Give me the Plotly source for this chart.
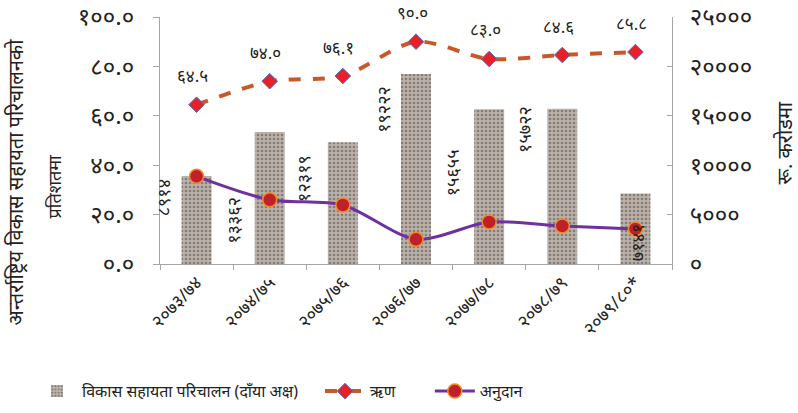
import plotly.graph_objects as go

# Fiscal years (Nepali calendar)
years = ["२०७३/७४", "२०७४/७५", "२०७५/७६", "२०७६/७७", "२०७७/७८", "२०७८/७९", "२०७९/८०*"]

# Development assistance mobilised, Rs. crore (right axis)
aid_total = [8914, 13362, 12319, 19222, 15655, 15722, 7141]
aid_labels = ["८९१४", "१३३६२", "१२३१९", "१९२२२", "१५६५५", "१५७२२", "७१४१"]

# Share of loan and grant, percent (left axis)
loan_pct = [64.5, 74.0, 76.1, 90.0, 83.0, 84.6, 85.8]
loan_labels = ["६४.५", "७४.०", "७६.१", "९०.०", "८३.०", "८४.६", "८५.८"]
grant_pct = [35.5, 26.0, 23.9, 10.0, 17.0, 15.4, 14.2]

left_ticks = [0, 20, 40, 60, 80, 100]
left_ticktext = ["०.०", "२०.०", "४०.०", "६०.०", "८०.०", "१००.०"]
right_ticks = [0, 5000, 10000, 15000, 20000, 25000]
right_ticktext = ["०", "५०००", "१००००", "१५०००", "२००००", "२५०००"]

FONT = "Noto Sans, Noto Sans Devanagari, sans-serif"
AXIS_GREY = "#a6a6a6"
TXT = "#222222"

fig = go.Figure()

fig.add_trace(go.Bar(
    x=years, y=aid_total, name="विकास सहायता परिचालन (दाँया अक्ष)",
    yaxis="y", width=0.41, legend="legend",
    marker=dict(
        color="#b4aba3",
        line=dict(width=0),
        pattern=dict(shape=".", bgcolor="#bbb3ab", fgcolor="#867c74",
                     size=4, solidity=0.35, fillmode="replace"),
    ),
))

fig.add_trace(go.Scatter(
    x=years, y=loan_pct, name="ऋण", yaxis="y2", mode="lines+markers",
    legend="legend2",
    line=dict(color="#c8582a", width=4, dash="dash", shape="spline", smoothing=0.8),
    marker=dict(symbol="diamond", size=12, color="#e8202a",
                line=dict(color="#4472c4", width=1)),
))

fig.add_trace(go.Scatter(
    x=years, y=grant_pct, name="अनुदान", yaxis="y2", mode="lines+markers",
    legend="legend3",
    line=dict(color="#7030a0", width=3, shape="spline", smoothing=0.8),
    marker=dict(symbol="circle", size=14, color="#c0202a",
                line=dict(color="#f08c28", width=1.5)),
))

annotations = []
# Loan value labels above the markers
for yr, v, t in zip(years, loan_pct, loan_labels):
    annotations.append(dict(x=yr, y=v, xref="x", yref="y2", text=t,
                            showarrow=False, yshift=29, xshift=-4,
                            font=dict(family=FONT, size=17, color=TXT)))

# Vertical value labels next to the bars
bar_label_pos = [(6700, -34), (4450, -37), (8700, -40), (15600, -33),
                 (9200, -37), (13600, -39), (2150, 1)]
for yr, t, (yy, dx) in zip(years, aid_labels, bar_label_pos):
    annotations.append(dict(x=yr, y=yy, xref="x", yref="y", text=t,
                            showarrow=False, textangle=-90, xshift=dx,
                            font=dict(family=FONT, size=18, color=TXT)))

# Axis titles
annotations.append(dict(x=-0.283, y=0.33, xref="paper", yref="paper",
                        xanchor="center", yanchor="middle",
                        text="अन्तर्राष्ट्रिय विकास सहायता परिचालनको",
                        textangle=-90, showarrow=False,
                        font=dict(family=FONT, size=20, color=TXT)))
annotations.append(dict(x=-0.207, y=0.31, xref="paper", yref="paper",
                        xanchor="center", yanchor="middle",
                        text="प्रतिशतमा", textangle=-90, showarrow=False,
                        font=dict(family=FONT, size=18, color=TXT)))
annotations.append(dict(x=1.22, y=0.49, xref="paper", yref="paper",
                        xanchor="center", yanchor="middle",
                        text="रू. करोडमा", textangle=-90, showarrow=False,
                        font=dict(family=FONT, size=20, color=TXT)))

legend_common = dict(orientation="h", yanchor="middle", xanchor="left",
                     font=dict(family=FONT, size=16, color=TXT),
                     itemwidth=40, bgcolor="rgba(0,0,0,0)")

fig.update_layout(
    width=798, height=413,
    margin=dict(l=160, r=126, t=17, b=149, autoexpand=False),
    paper_bgcolor="white", plot_bgcolor="white",
    font=dict(family=FONT, size=14, color=TXT),
    xaxis=dict(type="category", range=[-0.5, 6.5], showline=True,
               linecolor=AXIS_GREY, linewidth=1, ticks="outside",
               tickson="boundaries", tickcolor=AXIS_GREY, ticklen=5,
               tickangle=-46, tickfont=dict(size=18, color=TXT),
               showgrid=False, automargin=False),
    yaxis=dict(side="right", range=[0, 25000], tickvals=right_ticks,
               ticktext=right_ticktext, showline=True, linecolor=AXIS_GREY,
               ticks="inside", tickcolor=AXIS_GREY, ticklen=5,
               showgrid=False, zeroline=False, ticklabelstandoff=12,
               ticklabeloverflow="allow", automargin=False,
               tickfont=dict(size=24, color=TXT)),
    yaxis2=dict(overlaying="y", side="left", range=[0, 100],
                tickvals=left_ticks, ticktext=left_ticktext, showline=True,
                linecolor=AXIS_GREY, ticks="outside", tickcolor=AXIS_GREY,
                ticklen=6, showgrid=False, zeroline=False,
                ticklabeloverflow="allow", automargin=False,
                ticklabelstandoff=14, tickfont=dict(size=24, color=TXT)),
    legend=dict(x=-0.25, y=-0.515, **legend_common),
    legend2=dict(x=0.3125, y=-0.515, **legend_common),
    legend3=dict(x=0.527, y=-0.515, **legend_common),
    annotations=annotations,
    showlegend=True,
)

fig.write_html("out.html")
